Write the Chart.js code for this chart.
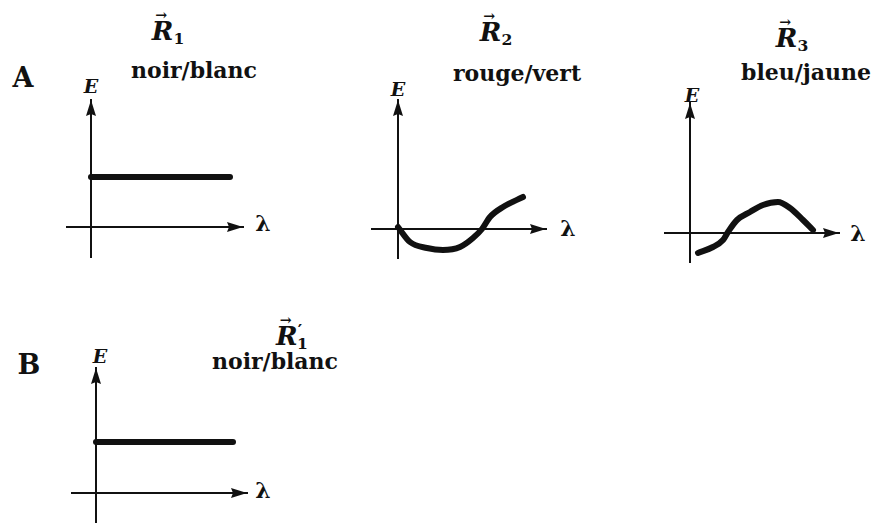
<!DOCTYPE html>
<html>
<head>
<meta charset="utf-8">
<title>Réponses des canaux R1, R2, R3</title>
<script src="https://cdn.jsdelivr.net/npm/chart.js@4.4.1/dist/chart.umd.min.js"></script>
<style>
    html, body { margin: 0; padding: 0; background: #fff; }
    #page {
        position: relative; width: 875px; height: 523px; overflow: hidden;
        background: #fff; color: #111;
        font-family: "DejaVu Serif", "Liberation Serif", serif;
    }
    #page canvas { position: absolute; }
    .lbl { position: absolute; transform: translate(-50%, -50%); white-space: nowrap; line-height: 1; }
    .name { font-size: 22px; font-weight: bold; }
    .panel { font-size: 27px; font-weight: bold; }
    .axis { font-size: 19px; font-style: italic; font-weight: bold; }
    .lam { font-size: 22px; font-weight: bold; }
    .vec { font-size: 26px; font-style: italic; font-weight: bold; }
    .vec .r { position: relative; display: inline-block; }
    .vec .r::before {
        content: "\2192"; position: absolute; left: 0.25em; top: -0.72em;
        font-size: 0.55em; font-style: normal;
    }
    .vec sub { font-size: 0.6em; font-style: normal; vertical-align: -0.25em; }
    .vec .pr { font-size: 0.65em; font-style: normal; position: relative; top: -0.55em; margin-right: -0.3em; }
</style>
</head>
<body>
<div id="page">
    <!-- Row A -->
    <div class="lbl panel" style="left:23px; top:77px;">A</div>
    <div class="lbl vec" style="left:168px; top:32px;"><span class="r">R</span><sub>1</sub></div>
    <div class="lbl name" style="left:194px; top:70px;">noir/blanc</div>
    <div class="lbl axis" style="left:91px; top:86px;">E</div>
    <div class="lbl lam" style="left:263px; top:223px;">λ</div>

    <div class="lbl vec" style="left:496px; top:33px;"><span class="r">R</span><sub>2</sub></div>
    <div class="lbl name" style="left:517px; top:73px;">rouge/vert</div>
    <div class="lbl axis" style="left:398px; top:89px;">E</div>
    <div class="lbl lam" style="left:568px; top:228px;">λ</div>

    <div class="lbl vec" style="left:792px; top:39px;"><span class="r">R</span><sub>3</sub></div>
    <div class="lbl name" style="left:806px; top:72px;">bleu/jaune</div>
    <div class="lbl axis" style="left:692px; top:95px;">E</div>
    <div class="lbl lam" style="left:858px; top:233px;">λ</div>

    <!-- Row B -->
    <div class="lbl panel" style="left:29px; top:364px;">B</div>
    <div class="lbl vec" style="left:292px; top:337px;"><span class="r">R</span><span class="pr">′</span><sub>1</sub></div>
    <div class="lbl name" style="left:275px; top:361px;">noir/blanc</div>
    <div class="lbl axis" style="left:100px; top:356px;">E</div>
    <div class="lbl lam" style="left:263px; top:490px;">λ</div>
</div>

<script>
// Spectral response curves (arbitrary units, origin at the axes crossing)
const r1Lambda = [0, 13.9];
const r1E = [5.0, 5.0];

const r2Lambda = [0, 1.2, 2.9, 4.5, 6.2, 7.5, 8.4, 9.2, 10.5, 12.5];
const r2E = [0.2, -1.3, -1.9, -2.1, -1.8, -0.9, 0, 1.2, 2.2, 3.2];

const r3Lambda = [0.8, 2.3, 3.3, 3.8, 4.7, 6.0, 7.3, 8.8, 10.0, 11.3, 12.3];
const r3E = [-2.0, -1.4, -0.7, 0.1, 1.3, 2.1, 2.8, 3.1, 2.5, 1.3, 0.3];

const r1pLambda = [0, 13.7];
const r1pE = [5.1, 5.1];

// Axis extents for each panel
const r1XRange = [-2.4, 15.2], r1YRange = [-3.0, 12.7];
const r2XRange = [-2.6, 14.8], r2YRange = [-2.9, 12.9];
const r3XRange = [-2.5, 14.9], r3YRange = [-2.9, 13.0];
const r1pXRange = [-2.4, 15.1], r1pYRange = [-3.0, 12.5];

// Layout
const UNIT = 10;      // pixels per unit
const PAD = 8;
const INK = '#111';

// Draw arrow heads at the ends of both axes
const arrowPlugin = {
    id: 'arrows',
    afterDraw(chart) {
        const ctx = chart.ctx;
        const xs = chart.scales.x, ys = chart.scales.y;
        const x0 = xs.getPixelForValue(0);
        const y0 = ys.getPixelForValue(0);
        const xr = xs.getPixelForValue(xs.max);
        const yt = ys.getPixelForValue(ys.max);
        ctx.save();
        ctx.fillStyle = INK;
        ctx.beginPath();
        ctx.moveTo(xr, y0);
        ctx.lineTo(xr - 16, y0 - 5);
        ctx.lineTo(xr - 14, y0);
        ctx.lineTo(xr - 16, y0 + 5);
        ctx.closePath();
        ctx.fill();
        ctx.beginPath();
        ctx.moveTo(x0, yt);
        ctx.lineTo(x0 - 5, yt + 16);
        ctx.lineTo(x0, yt + 14);
        ctx.lineTo(x0 + 5, yt + 16);
        ctx.closePath();
        ctx.fill();
        ctx.restore();
    }
};

function makePanel(left, top, lambdas, values, xRange, yRange) {
    const w = Math.round((xRange[1] - xRange[0]) * UNIT);
    const h = Math.round((yRange[1] - yRange[0]) * UNIT);
    const canvas = document.createElement('canvas');
    canvas.width = w + 2 * PAD;
    canvas.height = h + 2 * PAD;
    canvas.style.left = (left - PAD) + 'px';
    canvas.style.top = (top - PAD) + 'px';
    document.getElementById('page').appendChild(canvas);

    const axisOpts = (range, pos) => ({
        type: 'linear',
        min: range[0],
        max: range[1],
        position: pos,
        grid: { display: false },
        ticks: { display: false },
        border: { display: true, color: INK, width: 2 }
    });

    return new Chart(canvas, {
        type: 'line',
        data: {
            datasets: [{
                data: lambdas.map((x, i) => ({ x: x, y: values[i] })),
                borderColor: INK,
                borderWidth: 6,
                borderCapStyle: 'round',
                borderJoinStyle: 'round',
                pointRadius: 0,
                cubicInterpolationMode: 'monotone',
                fill: false,
                clip: false
            }]
        },
        options: {
            responsive: false,
            animation: false,
            events: [],
            layout: { padding: PAD },
            plugins: { legend: { display: false }, tooltip: { enabled: false } },
            scales: {
                x: axisOpts(xRange, { y: 0 }),
                y: axisOpts(yRange, { x: 0 })
            }
        },
        plugins: [arrowPlugin]
    });
}

makePanel(67, 100, r1Lambda, r1E, r1XRange, r1YRange);
makePanel(372, 100, r2Lambda, r2E, r2XRange, r2YRange);
makePanel(665, 103, r3Lambda, r3E, r3XRange, r3YRange);
makePanel(72, 368, r1pLambda, r1pE, r1pXRange, r1pYRange);
</script>
</body>
</html>
